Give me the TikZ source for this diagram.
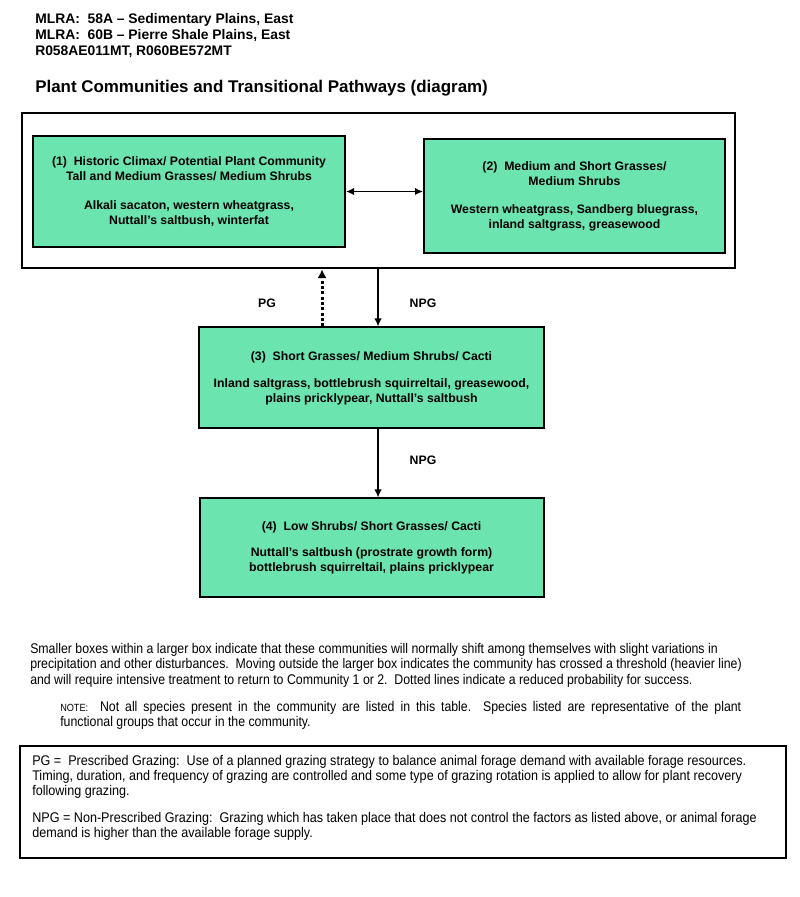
\documentclass[tikz,border=0pt]{standalone}
\usepackage{fontspec}
\setmainfont{Liberation Sans}
\newfontfamily\narrowfont[FakeStretch=0.88]{Liberation Sans}
\newfontfamily\legendfont[FakeStretch=0.9]{Liberation Sans}
\usepackage{tikz}
\usetikzlibrary{arrows.meta,positioning}
\definecolor{communitygreen}{RGB}{108,228,176}

\begin{document}
\begin{tikzpicture}[x=0.75pt,y=-0.75pt,>={Latex[length=6pt,width=5.5pt]},auto]

	\tikzstyle{community}=[rectangle,draw=black,line width=1.5pt,fill=communitygreen,align=center,inner sep=0pt,font=\fontsize{9.2}{11.25}\selectfont\bfseries]
	\tikzstyle{threshold}=[rectangle,draw=black,line width=2.2pt,inner sep=0pt]
	\tikzstyle{heading}=[anchor=base west,inner sep=0pt,font=\fontsize{10.4}{12.4}\selectfont\bfseries]
	\tikzstyle{pathlabel}=[inner sep=0pt,font=\fontsize{9.2}{11}\selectfont\bfseries]
	\tikzstyle{npg}=[->,line width=0.9pt]
	\tikzstyle{pg}=[-{Latex[length=6.5pt,width=7pt]},line width=2.2pt,dash pattern=on 2.4pt off 1.6pt]
	\tikzstyle{remark}=[anchor=north west,inner sep=0pt,align=left,font=\narrowfont\fontsize{10.5}{11.6}\selectfont]

	\useasboundingbox [fill=white] (0,0) rectangle (800,897);

	\node [heading] (mlra1) at (35,23) {MLRA:\ \ 58A -- Sedimentary Plains, East};
	\node [heading] (mlra2) at ([yshift=-12.4pt]mlra1.base west) {MLRA:\ \ 60B -- Pierre Shale Plains, East};
	\node [heading] (sites) at ([yshift=-12.2pt]mlra2.base west) {R058AE011MT, R060BE572MT};
	\node [heading,font=\fontsize{12.7}{14}\selectfont\bfseries] (title) at (35,92) {Plant Communities and Transitional Pathways (diagram)};

	\node [threshold,minimum width=534.75pt,minimum height=116.25pt] (outer) at (378.5,190.5) {};

	\node [community,minimum width=234pt,minimum height=83.25pt] (c1) at (189,191.5)
		{(1)\ \ Historic Climax/ Potential Plant Community\\
		 Tall and Medium Grasses/ Medium Shrubs\\[10pt]
		 Alkali sacaton, western wheatgrass,\\
		 Nuttall's saltbush, winterfat};
	\node [community,minimum width=225.75pt,minimum height=85.5pt] (c2) [right=57.75pt of c1,yshift=-3.4pt]
		{(2)\ \ Medium and Short Grasses/\\
		 Medium Shrubs\\[10pt]
		 Western wheatgrass, Sandberg bluegrass,\\
		 inland saltgrass, greasewood};
	\node [community,minimum width=258.75pt,minimum height=75.75pt] (c3) [below=42.75pt of outer,xshift=-5.25pt]
		{(3)\ \ Short Grasses/ Medium Shrubs/ Cacti\\[9pt]
		 Inland saltgrass, bottlebrush squirreltail, greasewood,\\
		 plains pricklypear, Nuttall's saltbush};
	\node [community,minimum width=258pt,minimum height=74.25pt] (c4) [below=51pt of c3]
		{(4)\ \ Low Shrubs/ Short Grasses/ Cacti\\[8pt]
		 Nuttall's saltbush (prostrate growth form)\\
		 bottlebrush squirreltail, plains pricklypear};

	\draw [<->,line width=1.2pt] (c1.east) -- (c1.east -| c2.west);
	\draw [pg] ([xshift=-37.1pt]c3.north) -- ([xshift=-37.1pt]c3.north |- outer.south);
	\draw [npg] ([xshift=4.9pt]c3.north |- outer.south) -- ([xshift=4.9pt]c3.north);
	\draw [npg] ([xshift=4.9pt]c3.south) -- ([xshift=4.9pt]c3.south |- c4.north);

	\node [pathlabel] (pglabel) at (267,303) {PG};
	\node [pathlabel] (npglabel1) at (423,303) {NPG};
	\node [pathlabel] (npglabel2) at (423,460) {NPG};

	\node [remark] (explain) at (30,643)
		{Smaller boxes within a larger box indicate that these communities will normally shift among themselves with slight variations in\\
		 precipitation and other disturbances.\ \ Moving outside the larger box indicates the community has crossed a threshold (heavier line)\\
		 and will require intensive treatment to return to Community 1 or 2.\ \ Dotted lines indicate a reduced probability for success.};
	\node [remark,align=justify,text width=510.75pt] (note) at (60,701)
		{{\fontsize{7.8}{11.6}\selectfont NOTE:}\ \ Not all species present in the community are listed in this table.\ \ Species listed are representative of the plant\linebreak
		 functional groups that occur in the community.};

	\node [rectangle,draw=black,line width=0.9pt,minimum width=574.5pt,minimum height=84pt,inner sep=0pt] (legend) at (403,802) {};
	\node [remark,font=\legendfont\fontsize{10.5}{11.25}\selectfont] (legendtext) at (32,755)
		{PG =\ \ Prescribed Grazing:\ \ Use of a planned grazing strategy to balance animal forage demand with available forage resources.\\
		 Timing, duration, and frequency of grazing are controlled and some type of grazing rotation is applied to allow for plant recovery\\
		 following grazing.\\[9pt]
		 NPG = Non-Prescribed Grazing:\ \ Grazing which has taken place that does not control the factors as listed above, or animal forage\\
		 demand is higher than the available forage supply.};

\end{tikzpicture}
\end{document}
